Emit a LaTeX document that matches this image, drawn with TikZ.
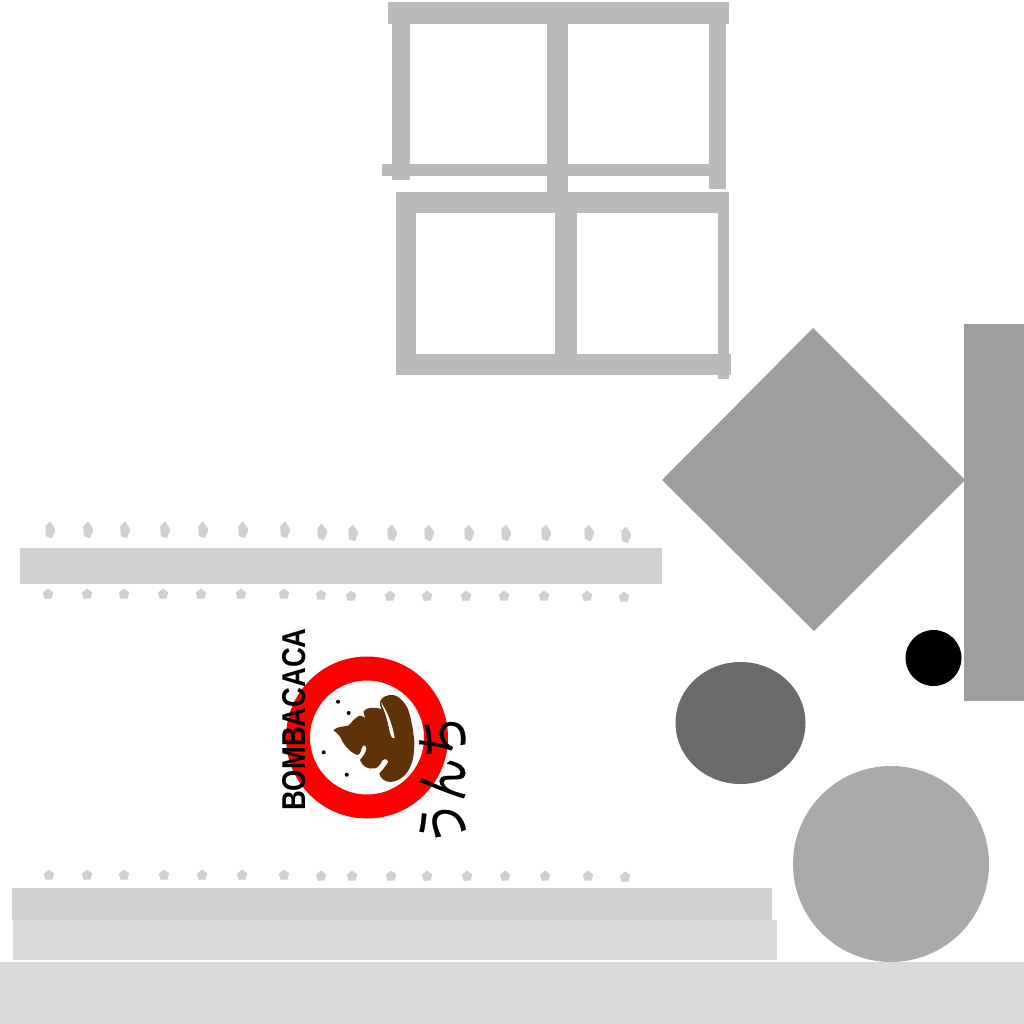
\documentclass[tikz,border=0pt]{standalone}
\usepackage{fontspec}
\setmainfont{Liberation Sans}
\newfontfamily\cjkfont[FakeBold=0.5]{Noto Sans CJK JP}
\usetikzlibrary{positioning}
\definecolor{framegray}{HTML}{BABABA}
\definecolor{shelfgray}{HTML}{D0D0D0}
\definecolor{floorgray}{HTML}{DADADA}
\definecolor{wallgray}{HTML}{9E9E9E}
\definecolor{poopbrown}{HTML}{5F3208}

\begin{document}
\begin{tikzpicture} [
    x=1pt, y=-1pt,
    frame/.style={fill=framegray},
    shelf/.style={fill=shelfgray},
    plate/.style={fill=floorgray},
    wall/.style={fill=wallgray},
    label/.style={outer sep=0, inner sep=0, align=center, text=black}
    ]
    \useasboundingbox (0,0) rectangle (1024,1024);
    % window
    \foreach \xa/\ya/\xb/\yb in {388/2/729/24,392/24/410/180,382/164/709/176,547/24/568/192,709/24/726/189,%
      396/192/729/213,396/213/416/375,555/213/577/354,718/213/729/379,396/354/731/375}
        \path[frame] (\xa,\ya) rectangle (\xb,\yb);
    % shelves
    \path[shelf] (20,548) rectangle (662,584);
    \path[shelf] (12,888) rectangle (772,920);
    \path[plate] (13,920) rectangle (777,960);
    \path[plate] (0,962) rectangle (1024,1024);
    % tall marks above the upper shelf
    \foreach \x/\y in {50/530,88/530,125/530,165/530,203/530,243/530,285/530,322/532,%
      353/533,392/533,429/533,469/533,506/533,546/533,589/533,626/535}
        \path[shelf] (\x,\y) ++(0,-8.5) -- ++(4.8,7) -- ++(0,3) -- ++(-3,6.8) -- ++(-5.9,-2.2) -- ++(-.6,-10) -- cycle;
    % small marks
    \foreach \x/\y in {48/594,87/594,124/594,163/594,201/594,241/594,284/594,321/595,%
      351/596,390/596,427/596,466/596,504/596,544/596,587/596,624/597,%
      49/875,87/875,124/875,164/875,202/875,242/875,284/875,321/876,%
      352/876,391/876,427/876,467/876,505/876,545/876,588/876,625/877}
        \path[shelf] (\x,\y) ++(0,-5.5) -- ++(5.2,3.8) -- ++(-1.7,6.2) -- ++(-6.8,.3) -- ++(-1.9,-6) -- cycle;
    % big shapes
    \path[wall] (813,328) -- (965,480) -- (814,631) -- (662,480) -- cycle;
    \path[wall] (964,324) rectangle (1024,701);
    \path[fill=black] (933.5,658) circle (28);
    \path[fill={rgb,255:red,106;green,106;blue,106}] (740.5,723) ellipse (65 and 61);
    \path[fill={rgb,255:red,170;green,170;blue,170}] (891,864) circle (98);
    % sign
    \draw[red, line width=24] (367,737.5) circle (69);
    \begin{scope}[shift={(325,685)}, x=.3333pt, y=-.3333pt]
      \path[fill=poopbrown] (25,135) .. controls (35,125) and (55,125) .. (70,122)
        .. controls (80,112) and (90,98) .. (103,92) .. controls (112,92) and (118,96) .. (122,100)
        .. controls (118,92) and (116,86) .. (115,80) .. controls (122,68) and (140,65) .. (170,72)
        .. controls (165,62) and (163,55) .. (165,50) .. controls (170,35) and (190,28) .. (205,30)
        .. controls (225,33) and (245,60) .. (250,75) .. controls (258,100) and (265,135) .. (268,170)
        .. controls (268,200) and (265,225) .. (258,240) .. controls (250,265) and (225,290) .. (195,291)
        .. controls (180,290) and (165,280) .. (163,265) .. controls (172,255) and (182,245) .. (190,230)
        .. controls (184,220) and (176,220) .. (172,226) .. controls (166,238) and (160,248) .. (150,250)
        .. controls (130,254) and (112,245) .. (105,225) .. controls (115,212) and (125,200) .. (124,188)
        .. controls (120,178) and (114,180) .. (111,188) .. controls (108,198) and (105,208) .. (98,210)
        .. controls (80,205) and (60,185) .. (50,165) .. controls (45,150) and (35,145) .. (25,135) -- cycle;
      \path[fill=white] (166,50) .. controls (185,75) and (202,115) .. (209,160)
        .. controls (198,160) and (198,150) .. (194,140) .. controls (188,105) and (178,75) .. (166,50) -- cycle;
    \end{scope}
    \foreach \x/\y in {338/701.7,348.7/713,323.7/752.3,346.7/774.7}
        \path[fill=black] (\x,\y) circle (2);
    \node[label, rotate=90, xscale=.83, font=\bfseries\fontsize{33}{33}\selectfont] (bomba) at (294,719.5) {BOMBACACA};
    \node[label, rotate=90, yscale=1.3, font=\cjkfont\fontsize{43}{43}\selectfont] (unchi) at (443,780) {うんち};
  \end{tikzpicture}
\end{document}
